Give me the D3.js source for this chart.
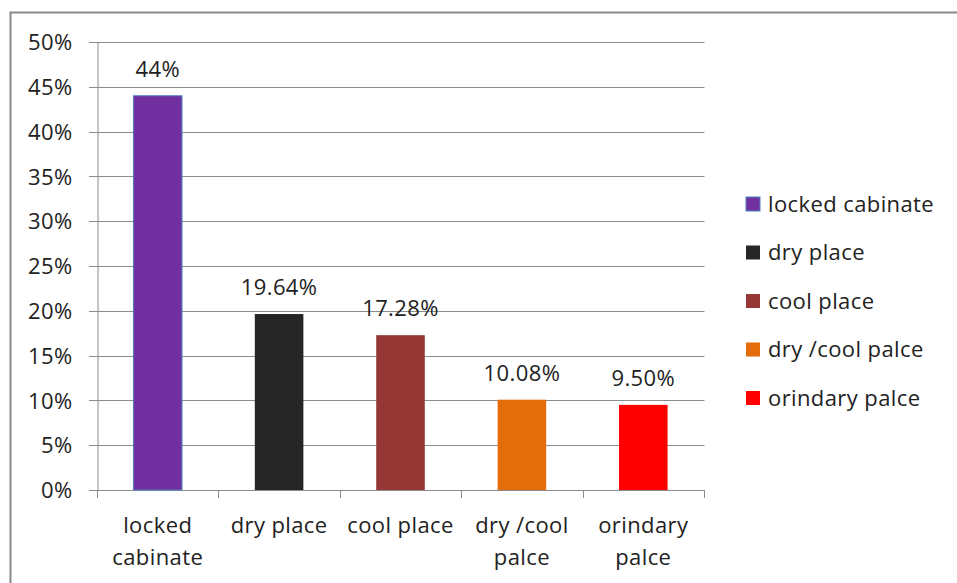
<!DOCTYPE html>
<html><head><meta charset="utf-8">
<script src="https://cdn.jsdelivr.net/npm/d3@7"></script>
<style>body{margin:0;background:#fff;} text{font-family:"Open Sans",sans-serif;fill:#222;letter-spacing:0.4px;}</style>
</head><body>
<svg id="c" width="957" height="583"></svg>
<script>
const categories = ["locked cabinate","dry place","cool place","dry /cool palce","orindary palce"];
const axisLabels = [["locked","cabinate"],["dry place"],["cool place"],["dry /cool","palce"],["orindary","palce"]];
const values = [44, 19.64, 17.28, 10.08, 9.5];
const valueLabels = ["44%","19.64%","17.28%","10.08%","9.50%"];
const colors = ["#7030A0","#262626","#953735","#E46C0A","#FF0000"];
const yTicks = [0,5,10,15,20,25,30,35,40,45,50];

const svg = d3.select("#c");
svg.append("rect").attr("x",10.5).attr("y",12.5).attr("width",960).attr("height",600)
  .attr("fill","none").attr("stroke","#888").attr("stroke-width",2);

const x = d3.scaleBand().domain(categories).range([97,704]).paddingInner(0.6).paddingOuter(0.3);
const y = d3.scaleLinear().domain([0,50]).range([490,42]);

svg.append("g").selectAll("line").data(yTicks).join("line")
  .attr("x1",89).attr("x2",704.5).attr("y1",d=>Math.round(y(d))+0.5).attr("y2",d=>Math.round(y(d))+0.5)
  .attr("stroke","#8c8c8c").attr("stroke-width",1);

const yAxis = d3.axisLeft(y).tickValues(yTicks).tickFormat(d=>d+"%").tickSize(0).tickPadding(25);
const gy = svg.append("g").attr("transform","translate(97.5,0)").call(yAxis);
gy.select(".domain").attr("stroke","#8c8c8c");
gy.selectAll("text").style("font-size","22px").style("font-family","'Open Sans',sans-serif").attr("fill","#222").attr("dy","0.35em");

const step = (704-97)/categories.length;
const tickXs = d3.range(categories.length+1).map(i=>97+i*step);
svg.append("g").selectAll("line").data(tickXs).join("line")
  .attr("x1",d=>Math.round(d)+0.5).attr("x2",d=>Math.round(d)+0.5).attr("y1",490).attr("y2",498)
  .attr("stroke","#8c8c8c");

svg.append("g").selectAll("rect").data(values).join("rect")
  .attr("x",(d,i)=>x(categories[i])).attr("width",x.bandwidth())
  .attr("y",d=>y(d)).attr("height",d=>y(0)-y(d))
  .attr("fill",(d,i)=>colors[i])
  .attr("stroke",(d,i)=>i===0?"#4F81BD":"none").attr("stroke-width",1);

svg.append("g").selectAll("text").data(values).join("text")
  .attr("x",(d,i)=>x(categories[i])+x.bandwidth()/2).attr("y",d=>y(d)-19)
  .attr("text-anchor","middle").style("font-size","22px").text((d,i)=>valueLabels[i]);

const cl = svg.append("g").selectAll("text").data(axisLabels).join("text")
  .attr("x",(d,i)=>x(categories[i])+x.bandwidth()/2).attr("y",533)
  .attr("text-anchor","middle").style("font-size","22px");
cl.selectAll("tspan").data(d=>d).join("tspan")
  .attr("x",function(){return d3.select(this.parentNode).attr("x");})
  .attr("dy",(d,i)=>i===0?0:32).text(d=>d);

const lg = svg.append("g").selectAll("g").data(categories).join("g")
  .attr("transform",(d,i)=>`translate(746,${204+i*48.5})`);
lg.append("rect").attr("x",0).attr("y",-7).attr("width",14).attr("height",14)
  .attr("fill",(d,i)=>colors[i]).attr("stroke",(d,i)=>i===0?"#4F81BD":"none");
lg.append("text").attr("x",22).attr("y",0).attr("dy","0.35em").style("font-size","22px").text(d=>d);
</script>
</body></html>
